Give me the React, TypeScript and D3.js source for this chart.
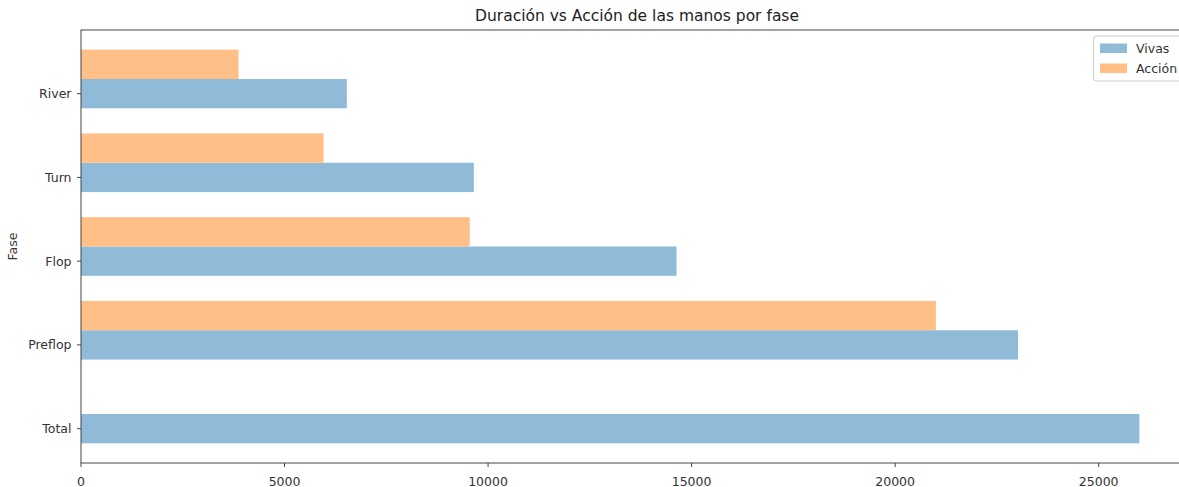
import React from "react";
import * as d3 from "d3";

const categories = ["Total", "Preflop", "Flop", "Turn", "River"];
const vivas = [26000, 23020, 14630, 9650, 6530];
const accion = [0, 21000, 9550, 5960, 3870];
const xTicks = [0, 5000, 10000, 15000, 20000, 25000];
const seriesNames = ["Vivas", "Acción"];

const W = 1179;
const H = 487;
const FONT = "'DejaVu Sans', sans-serif";
const BLUE = "#8fbbd9";
const ORANGE = "#ffbf86";
const BAR_H = 0.35;
const FS = 12.5;

export default function App() {
  const x = d3.scaleLinear().domain([0, 27300]).range([81, 1192.3]);
  const y = d3.scaleLinear().domain([-0.41, 4.76]).range([463, 30]);
  const idx = d3.range(categories.length);
  const bh = y(0) - y(BAR_H);

  return (
    <svg
      width={W}
      height={H}
      style={{ position: "absolute", left: 0, top: 0, background: "#fff" }}
      fontFamily={FONT}
    >
      <rect x={0} y={0} width={W} height={H} fill="#fff" />
      {idx.map((i) => (
        <g key={categories[i]}>
          <rect
            x={x(0)}
            y={y(i + BAR_H / 2)}
            width={x(vivas[i]) - x(0)}
            height={bh}
            fill={BLUE}
          />
          {accion[i] > 0 && (
            <rect
              x={x(0)}
              y={y(i + BAR_H + BAR_H / 2)}
              width={x(accion[i]) - x(0)}
              height={bh}
              fill={ORANGE}
            />
          )}
        </g>
      ))}
      <rect
        x={x(0)}
        y={y(4.76)}
        width={x(27300) - x(0)}
        height={y(-0.41) - y(4.76)}
        fill="none"
        stroke="#444"
        strokeWidth={1}
      />
      {xTicks.map((t) => (
        <g key={t}>
          <line x1={x(t)} x2={x(t)} y1={463} y2={467} stroke="#444" />
          <text x={x(t)} y={485.5} textAnchor="middle" fontSize={FS} fill="#333">
            {t}
          </text>
        </g>
      ))}
      {idx.map((i) => (
        <g key={"yt" + i}>
          <line x1={77} x2={81} y1={y(i)} y2={y(i)} stroke="#444" />
          <text
            x={71.5}
            y={y(i)}
            dy="0.36em"
            textAnchor="end"
            fontSize={FS}
            fill="#333"
          >
            {categories[i]}
          </text>
        </g>
      ))}
      <text
        transform={`translate(17,${(30 + 463) / 2}) rotate(-90)`}
        textAnchor="middle"
        fontSize={FS}
        fill="#333"
      >
        Fase
      </text>
      <text x={637} y={20.5} textAnchor="middle" fontSize={15.5} fill="#222">
        Duración vs Acción de las manos por fase
      </text>
      <rect
        x={1093.5}
        y={36}
        width={110}
        height={45}
        rx={3}
        fill="#fff"
        fillOpacity={0.8}
        stroke="#ccc"
      />
      {seriesNames.map((n, k) => (
        <g key={n}>
          <rect
            x={1100}
            y={43.5 + k * 20}
            width={27}
            height={9.5}
            fill={k === 0 ? BLUE : ORANGE}
          />
          <text x={1136} y={48.5 + k * 20} dy="0.36em" fontSize={FS} fill="#333">
            {n}
          </text>
        </g>
      ))}
    </svg>
  );
}
